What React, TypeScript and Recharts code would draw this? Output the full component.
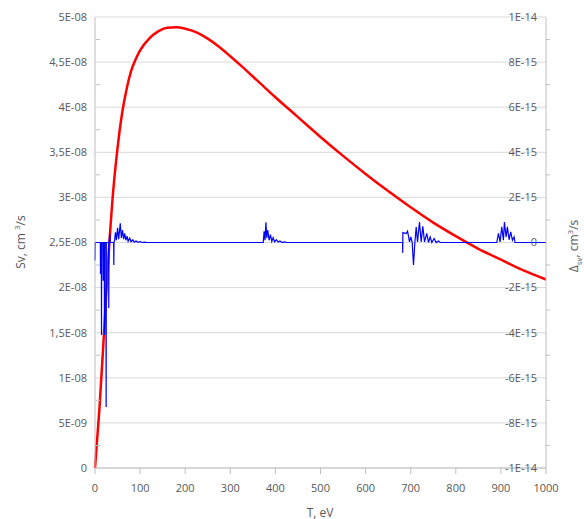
import { LineChart, Line, XAxis, YAxis, CartesianGrid } from 'recharts';

// Sv(T), cm^3/s  (left axis)
const svT = [0, 10, 20, 30, 40, 50, 60, 70, 80, 90, 100, 120, 140, 160, 180, 200, 225, 250, 275, 300, 325, 350, 375, 400, 450, 500, 550, 600, 650, 700, 750, 800, 850, 900, 950, 1000];
const svValues = [0, 0.67e-8, 1.5e-8, 2.35e-8, 3.05e-8, 3.55e-8, 3.93e-8, 4.2e-8, 4.4e-8, 4.53e-8, 4.63e-8, 4.76e-8, 4.84e-8, 4.88e-8, 4.886e-8, 4.87e-8, 4.83e-8, 4.76e-8, 4.67e-8, 4.565e-8, 4.455e-8, 4.34e-8, 4.225e-8, 4.11e-8, 3.89e-8, 3.67e-8, 3.46e-8, 3.26e-8, 3.07e-8, 2.89e-8, 2.72e-8, 2.57e-8, 2.43e-8, 2.31e-8, 2.19e-8, 2.09e-8];

// Δsv(T), in units of 1E-15 cm^3/s  (right axis)
const deltaT = [
  0, 0.6, 11.8, 12.2, 12.6, 14.0, 14.4, 14.8, 17.7, 18.1, 18.5, 20.6, 21, 21.4, 24.3, 24.7, 25.1,
  30.2, 30.6, 31.0, 32.8, 34, 41.3, 41.7, 42.1, 43.5, 45.4, 47.5, 50, 52.5, 56, 58.5, 61, 63.5,
  66, 68.5, 71, 73.5, 77, 80, 84, 87, 91, 95, 100, 105, 110, 115,
  373, 375, 377, 379, 381, 383, 386, 389, 392, 395, 398, 402, 406, 410, 415, 420, 425,
  682, 682.3, 682.6, 690, 693, 697.4, 700.4, 703.3, 706.2, 709.2, 712.2, 715.1, 719.5, 723.2,
  726.9, 730.6, 735.7, 739.4, 743.1, 746.8, 752, 756.4, 761.6, 765.3,
  890.8, 894.5, 898.2, 901.9, 905.6, 907.8, 911.5, 914.4, 918.1, 921.8, 925.5, 929.2, 931.4, 1000,
];
const deltaValues = [
  -0.8, 0, 0, -1.4, 0, 0, -4.1, 0, 0, -1.7, 0, 0, -4.1, 0, 0, -7.3, 0,
  0, -2.9, 0, 0.37, 0, 0, -1.0, 0, 0.1, 0.45, 0.1, 0.65, 0.15, 0.85, 0.2, 0.55, 0.15,
  0.4, 0.1, 0.28, 0.05, 0.2, 0.03, 0.12, 0.02, 0.07, 0.01, 0.04, 0, 0.02, 0,
  0, 0.5, 0.1, 0.9, 0.2, 0.55, 0.1, 0.35, 0.05, 0.22, 0.03, 0.12, 0.02, 0.07, 0, 0.03, 0,
  0, -0.46, 0.44, 0.4, 0.5, 0.03, 0.25, 0, -1.0, 0, 0.69, 0.03, 0.91, 0.03,
  0.72, 0.03, 0.4, 0, 0.25, 0, 0.18, 0, 0.07, 0,
  0, 0.4, 0.03, 0.69, 0.1, 0.91, 0.25, 0.69, 0.12, 0.47, 0.1, 0.25, 0, 0,
];

const xTicks = [0, 100, 200, 300, 400, 500, 600, 700, 800, 900, 1000];
const leftTicks = [0, 5e-9, 1e-8, 1.5e-8, 2e-8, 2.5e-8, 3e-8, 3.5e-8, 4e-8, 4.5e-8, 5e-8];
const leftMinor = [2.5e-9, 7.5e-9, 1.25e-8, 1.75e-8, 2.25e-8, 2.75e-8, 3.25e-8, 3.75e-8, 4.25e-8, 4.75e-8];
const rightTicks = [-1e-14, -8e-15, -6e-15, -4e-15, -2e-15, 0, 2e-15, 4e-15, 6e-15, 8e-15, 1e-14];
const rightMinor = [-9e-15, -7e-15, -5e-15, -3e-15, -1e-15, 1e-15, 3e-15, 5e-15, 7e-15, 9e-15];

const svData = svT.map((T, i) => ({ T, sv: svValues[i] }));
const deltaData = deltaT.map((T, i) => ({ T, d: deltaValues[i] * 1e-15 }));
const leftAll = [...leftTicks, ...leftMinor].sort((a, b) => a - b);
const rightAll = [...rightTicks, ...rightMinor].sort((a, b) => a - b);

const font = "'Open Sans', sans-serif";
const textColor = '#595959';
const axisColor = '#bfbfbf';

function sci(v: number) {
  if (v === 0) return '0';
  const [m, e] = v.toExponential().split('e');
  const exp = parseInt(e, 10);
  const sign = exp < 0 ? '-' : '+';
  const digits = String(Math.abs(exp)).padStart(2, '0');
  return `${m.replace('.', ',')}E${sign}${digits}`;
}

const LeftTick = (props: any) => {
  const { x, y, payload } = props;
  if (leftMinor.includes(payload.value)) {
    return <line x1={x + 9} x2={x + 13} y1={y} y2={y} stroke={axisColor} />;
  }
  return (
    <text x={x} y={y} dy="0.35em" textAnchor="end" fill={textColor} fontSize={11} fontFamily={font}>
      {sci(payload.value)}
    </text>
  );
};

const RightTick = (props: any) => {
  const { x, y, payload } = props;
  if (rightMinor.includes(payload.value)) {
    return <line x1={x - 8} x2={x - 4} y1={y} y2={y} stroke={axisColor} />;
  }
  return (
    <text x={x - 17} y={y} dy="0.35em" textAnchor="end" fill={textColor} fontSize={11} fontFamily={font}>
      {sci(payload.value)}
    </text>
  );
};

export default function App() {
  return (
    <div style={{ position: 'absolute', left: 0, top: 0, width: 584, height: 519, background: '#fff', fontFamily: font }}>
      <LineChart width={584} height={519} margin={{ top: 17, right: 0, bottom: 21, left: 0 }}>
        <CartesianGrid yAxisId="left" vertical={false} stroke="#d9d9d9" horizontalValues={leftTicks} />
        <XAxis
          dataKey="T"
          type="number"
          domain={[0, 1000]}
          ticks={xTicks}
          height={30}
          stroke={axisColor}
          tickSize={6}
          tickMargin={10}
          tick={{ fill: textColor, fontSize: 11, fontFamily: font }}
        />
        <YAxis
          yAxisId="left"
          domain={[0, 5e-8]}
          ticks={leftAll}
          interval={0}
          width={95}
          stroke={axisColor}
          tickLine={false}
          tick={<LeftTick />}
          allowDataOverflow
        />
        <YAxis
          yAxisId="right"
          orientation="right"
          domain={[-1e-14, 1e-14]}
          ticks={rightAll}
          interval={0}
          width={38}
          stroke={axisColor}
          tickLine={false}
          tick={<RightTick />}
          allowDataOverflow
        />
        <Line
          yAxisId="left"
          data={svData}
          dataKey="sv"
          type="monotone"
          stroke="#ff0000"
          strokeWidth={2.5}
          dot={false}
          isAnimationActive={false}
        />
        <Line
          yAxisId="right"
          data={deltaData}
          dataKey="d"
          type="linear"
          stroke="#0000ff"
          strokeWidth={1.2}
          dot={false}
          isAnimationActive={false}
        />
      </LineChart>
      <div style={{ position: 'absolute', left: 20, top: 242, transform: 'translate(-50%, -50%) rotate(-90deg)', whiteSpace: 'nowrap', fontSize: 12, color: textColor }}>
        Sv, cm <sup style={{ fontSize: 8 }}>3</sup>/s
      </div>
      <div style={{ position: 'absolute', left: 574, top: 246, transform: 'translate(-50%, -50%) rotate(-90deg)', whiteSpace: 'nowrap', fontSize: 12, color: textColor }}>
        Δ<sub style={{ fontSize: 8 }}>sv</sub>, cm<sup style={{ fontSize: 8 }}>3</sup>/s
      </div>
      <div style={{ position: 'absolute', left: 320, top: 512, transform: 'translate(-50%, -50%)', whiteSpace: 'nowrap', fontSize: 12, color: textColor }}>
        T, eV
      </div>
    </div>
  );
}
